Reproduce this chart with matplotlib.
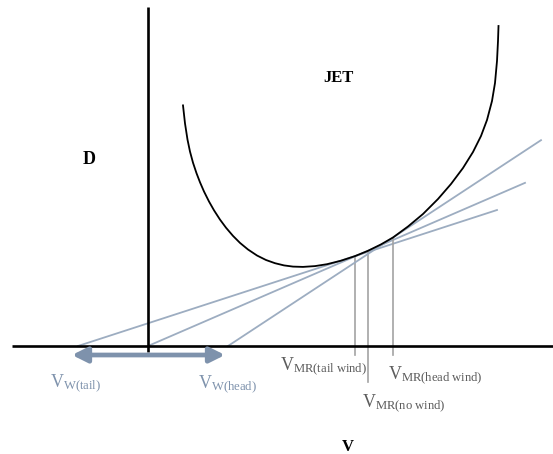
"""
Jet maximum-range speed with wind: drag curve, tangents from the wind points.
"""

import matplotlib
matplotlib.use("Agg")
import matplotlib.pyplot as plt
import numpy as np

plt.rcParams["mathtext.fontset"] = "custom"
plt.rcParams["mathtext.rm"] = "Liberation Serif"
plt.rcParams["mathtext.it"] = "Liberation Serif:italic"
plt.rcParams["mathtext.bf"] = "Liberation Serif:bold"

# ── data (speed V, drag D) ────────────────────────────────────────
curve_v = [35, 37, 39.5, 42, 45, 48.5, 52, 56, 61, 66, 72, 78, 85, 92, 100,
           109, 118, 127, 136, 145, 155, 167, 179, 193, 207, 220, 233, 245,
           260, 275, 290, 303, 315, 325, 333, 339, 344, 347, 349, 350, 350.5]
curve_d = [240.6, 222.6, 206.4, 194.4, 183.3, 172.8, 163.7, 154.5, 144.5,
           135.7, 126.4, 118.3, 110.1, 103.1, 96.5, 90.5, 86.0, 82.8, 80.6,
           79.4, 79.1, 79.9, 81.8, 85.3, 89.9, 95.2, 101.6, 108.5,
           119.5, 132, 147, 162, 178, 194, 210, 226, 245, 263, 285, 305, 320]

wind_names = ["tail wind", "no wind", "head wind"]
wind_v     = [-70, 0, 80]          # where each tangent leaves the V axis
v_mr       = [207, 220, 245]       # tangent points on the drag curve
line_end_v = [349, 377, 393]

# ── palette ───────────────────────────────────────────────────────
TAN_C   = "#9dadc1"
DROP_C  = "#a3a3a3"
ARROW_C = "#7e92ac"
LBL_C   = "#5c5c5c"
SERIF   = "Liberation Serif"

W, H = 553, 454
fig = plt.figure(figsize=(W / 100, H / 100), dpi=100)
ax = fig.add_axes([0, 0, 1, 1])
ax.set_xlim(-148, W - 148)
ax.set_ylim(346 - H, 346)
ax.axis("off")
fig.patch.set_facecolor("white")

# axes of the diagram
ax.plot([-136, W - 148], [0, 0], color="black", lw=1.9, zorder=3,
        solid_capstyle="butt")
ax.plot([0, 0], [-6, 339], color="black", lw=1.9, zorder=3,
        solid_capstyle="butt")

# drag curve
ax.plot(curve_v, curve_d, color="black", lw=1.3, zorder=4,
        solid_joinstyle="round")

# tangent lines and the maximum-range speeds they touch
drop_bottom = [-9, -36, -9]
for vw, vm, ve, yb in zip(wind_v, v_mr, line_end_v, drop_bottom):
    dm = np.interp(vm, curve_v, curve_d)
    slope = dm / (vm - vw)
    ax.plot([vw, ve], [0, slope * (ve - vw)], color=TAN_C, lw=1.3, zorder=2)
    ax.plot([vm, vm], [yb, dm], color=DROP_C, lw=1.2, zorder=2)

# wind range arrow
ax.annotate("", xy=(wind_v[0] - 6, -9), xytext=(wind_v[2] - 3, -9),
            arrowprops=dict(arrowstyle="<|-|>,head_width=0.45,head_length=0.9",
                            color=ARROW_C, lw=3.4, shrinkA=0, shrinkB=0),
            zorder=5)

# labels
ax.text(-59, 187, "D", fontsize=13, fontweight="bold", family=SERIF,
        ha="center", va="center")
ax.text(190, 268, "JET", fontsize=12, fontweight="bold", family=SERIF,
        ha="center", va="center")
ax.text(200, -101, "V", fontsize=12, fontweight="bold", family=SERIF,
        ha="center", va="center")

mr_pos = [(132, -24), (214, -61), (240, -33)]
for name, (x, y) in zip(wind_names, mr_pos):
    sub = name.replace(" ", r"\ ")
    ax.text(x, y, rf"$\mathrm{{V}}_{{\mathrm{{MR({sub})}}}}$", fontsize=13,
            color=LBL_C, ha="left", va="baseline")

ax.text(-98, -41, r"$\mathrm{V}_{\mathrm{W(tail)}}$", fontsize=13,
        color=ARROW_C, ha="left", va="baseline")
ax.text(50, -42, r"$\mathrm{V}_{\mathrm{W(head)}}$", fontsize=13,
        color=ARROW_C, ha="left", va="baseline")

fig.savefig("out.png", dpi=100, facecolor="white")
